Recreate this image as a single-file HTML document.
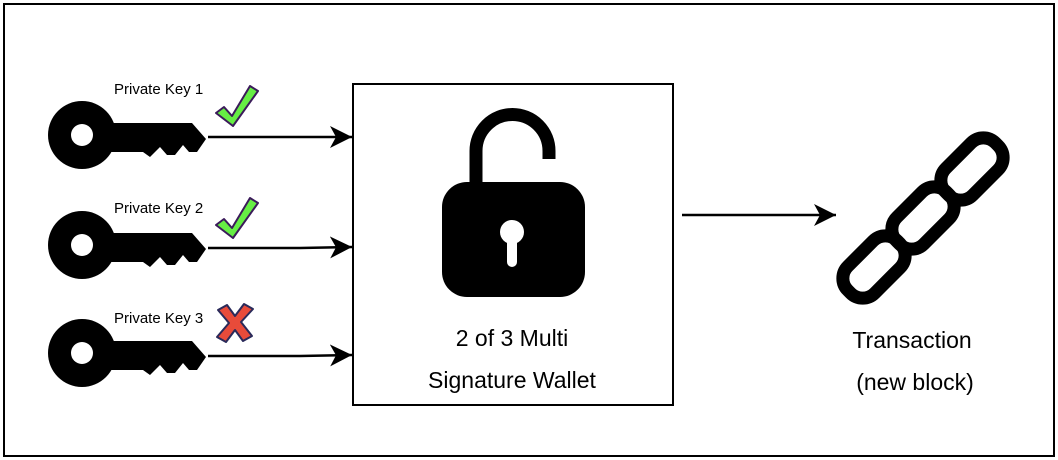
<!DOCTYPE html>
<html><head><style>
body{margin:0;background:#fff;}
svg{display:block;font-family:"Liberation Sans",Arial,sans-serif;}
</style></head><body>
<svg width="1058" height="460" viewBox="0 0 1058 460">
<defs>
<marker id="a" viewBox="0 0 22 22" refX="22" refY="11" markerWidth="22" markerHeight="22" markerUnits="userSpaceOnUse" orient="auto"><path d="M0,0 L22,11 L0,22 L6,11 Z" fill="#000"/></marker>
<g id="key">
<circle cx="82" cy="135" r="34" fill="#000"/>
<circle cx="82" cy="135" r="11" fill="#fff"/>
<path d="M105,123 L192,123 L206,139 L197,152 L189,152 L183,145 L175,155 L167,155 L160,147 L150,157 L143,152 L105,152 Z" fill="#000"/>
</g>
<g id="chk">
<path d="M216,113 L224,107 L232,116 L250,86 L258,91 L233,126 Z" fill="#66ee44" stroke="#3b1a5a" stroke-width="2" stroke-linejoin="round"/>
</g>
</defs>
<rect x="4" y="4" width="1050" height="452" fill="#fff" stroke="#000" stroke-width="2"/>
<use href="#key"/>
<use href="#key" y="110"/>
<use href="#key" y="218"/>
<text x="114" y="94" font-size="15">Private Key 1</text>
<text x="114" y="213" font-size="15">Private Key 2</text>
<text x="114" y="323" font-size="15">Private Key 3</text>
<use href="#chk"/>
<use href="#chk" y="112"/>
<path d="M218,310 L227,305 L235,316 L244,304 L253,309 L241,322 L252,336 L243,341 L235,330 L226,342 L217,337 L229,323 Z" fill="#e84b3a" stroke="#2a2a5a" stroke-width="2" stroke-linejoin="round"/>
<line x1="208" y1="137" x2="352" y2="137" stroke="#000" stroke-width="2.5" marker-end="url(#a)"/>
<path d="M208,248 L300,248 L352,247" fill="none" stroke="#000" stroke-width="2.5" marker-end="url(#a)"/>
<path d="M208,356 L300,356 L352,355" fill="none" stroke="#000" stroke-width="2.5" marker-end="url(#a)"/>
<rect x="353" y="84" width="320" height="321" fill="#fff" stroke="#000" stroke-width="2"/>
<path d="M476,186 L476,151 A36.5,36.5 0 0 1 549,151 L549,159" fill="none" stroke="#000" stroke-width="13"/>
<rect x="442" y="182" width="143" height="115" rx="25" fill="#000"/>
<circle cx="512" cy="232" r="12" fill="#fff"/>
<rect x="507" y="234" width="10" height="33" rx="5" fill="#fff"/>
<text x="512" y="346" font-size="23" text-anchor="middle">2 of 3 Multi</text>
<text x="512" y="388" font-size="23" text-anchor="middle">Signature Wallet</text>
<line x1="682" y1="215" x2="836" y2="215" stroke="#000" stroke-width="2.5" marker-end="url(#a)"/>
<g fill="none" stroke="#000" stroke-width="13">
<rect x="-35" y="-19" width="70" height="38" rx="17" transform="translate(874,267) rotate(-45)"/>
<rect x="-35" y="-19" width="70" height="38" rx="17" transform="translate(923,218) rotate(-45)"/>
<rect x="-35" y="-19" width="70" height="38" rx="17" transform="translate(972,169) rotate(-45)"/>
</g>
<text x="912" y="348" font-size="23" text-anchor="middle">Transaction</text>
<text x="915" y="390" font-size="23" text-anchor="middle">(new block)</text>
</svg>
</body></html>
